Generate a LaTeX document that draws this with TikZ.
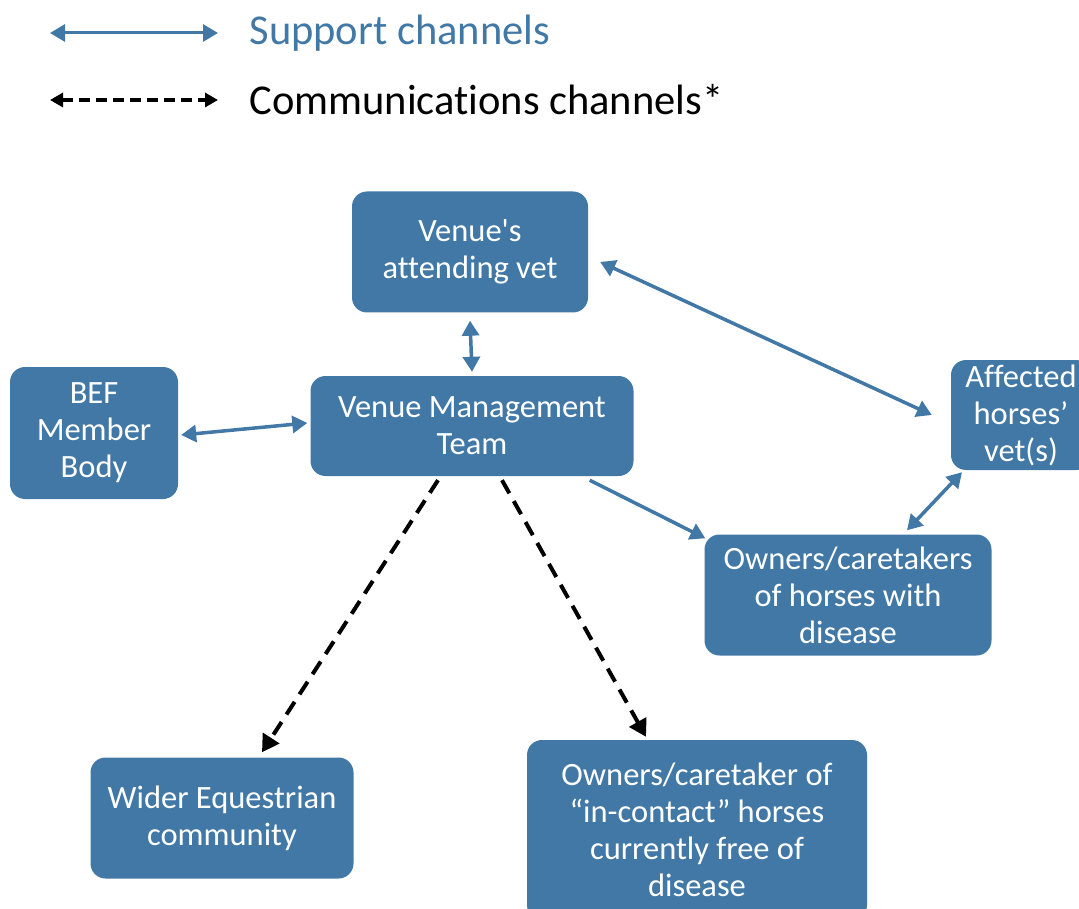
\documentclass[tikz,border=0pt]{standalone}
\usepackage{fontspec}
\setmainfont{Carlito}[Ligatures=NoCommon]
\usetikzlibrary{arrows.meta}
\definecolor{boxblue}{HTML}{4178A6}

\begin{document}
\begin{tikzpicture}[x=1pt, y=-1pt]
\tikzstyle{box}=[rectangle, rounded corners=15pt, fill=boxblue, text=white, align=center, font=\fontsize{32.5}{37}\selectfont, inner sep=0pt]
\tikzstyle{support}=[draw=boxblue, line width=3.5pt, {Triangle[length=15pt,width=17pt]}-{Triangle[length=15pt,width=17pt]}]
\tikzstyle{comms}=[draw=black, line width=4pt, dash pattern=on 15pt off 9pt, -{Triangle[length=17pt,width=19pt]}]
\useasboundingbox (0,0) rectangle (1079,909);

% legend
\coordinate (s1) at (50,33);
\coordinate (s2) at (218,33);
\coordinate (c1) at (50,100);
\coordinate (c2) at (218,100);
\draw[support, line width=3pt] (s1) -- (s2);
\draw[comms, {Triangle[length=13pt,width=14pt]}-{Triangle[length=13pt,width=14pt]}, line width=3.5pt, dash pattern=on 11pt off 6pt] (c1) -- (c2);
\node[anchor=west, text=boxblue, font=\fontsize{42.5}{46}\selectfont] (sl) at (246,33) {Support channels};
\node[anchor=west, font=\fontsize{42.5}{46}\selectfont] (cl) at (246,100) {Communications channels*};

% boxes
\node[box, minimum width=236pt, minimum height=121pt] (vet) at (470,252) {Venue\textquotesingle s\\attending vet};
\node[box, minimum width=168pt, minimum height=132pt] (bef) at (94,433) {BEF\\Member\\Body};
\node[box, minimum width=323pt, minimum height=100pt] (vmt) at (472,426) {Venue Management\\Team};
\node[box, minimum width=140pt, minimum height=110pt] (aff) at (1021,415) {Affected\\horses’\\vet(s)};
\node[box, minimum width=287pt, minimum height=121pt] (own) at (848,595) {Owners/caretakers\\of horses with\\disease};
\node[box, minimum width=263pt, minimum height=121pt] (wider) at (222,818) {Wider Equestrian\\community};
\node[box, minimum width=340pt, minimum height=180pt] (inc) at (697,830) {Owners/caretaker of\\“in-contact” horses\\currently free of\\disease};

% support channels
\draw[support] ([yshift=-8pt]vet.south) -- ([yshift=4pt]vmt.north);
\draw[support] ([xshift=3pt,yshift=-2pt]bef.east) -- ([xshift=-3pt,yshift=3pt]vmt.west);
\draw[support] ([xshift=12pt,yshift=-10pt]vet.east) -- ([xshift=-19pt]aff.west);
\draw[support, -{Triangle[length=15pt,width=17pt]}] ([xshift=-44pt,yshift=-4pt]vmt.south east) -- ([xshift=1pt,yshift=-4pt]own.north west);
\draw[support] ([xshift=-59pt,yshift=-2pt]aff.south) -- ([xshift=59pt,yshift=4pt]own.north);

% communications channels
\draw[comms] ([xshift=-34pt,yshift=-4pt]vmt.south) -- ([xshift=40pt,yshift=5pt]wider.north);
\draw[comms] ([xshift=30pt,yshift=-4pt]vmt.south) -- ([xshift=-51pt,yshift=3pt]inc.north);
\end{tikzpicture}
\end{document}
